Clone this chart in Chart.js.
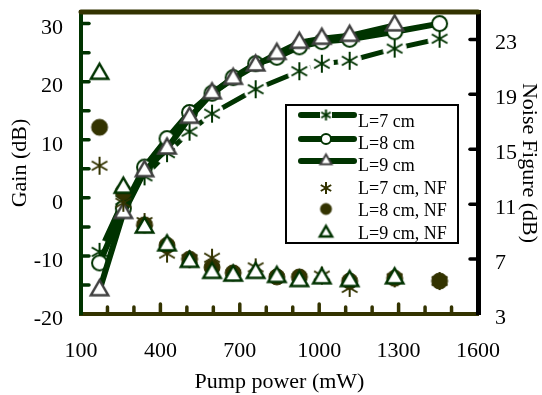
<!DOCTYPE html>
<html>
<head>
<meta charset="utf-8">
<script src="https://cdn.jsdelivr.net/npm/chart.js@4.4.0/dist/chart.umd.min.js"></script>
<style>
  html, body { margin: 0; padding: 0; background: #fff; }
  #wrap { width: 542px; height: 395px; }
</style>
</head>
<body>
<div id="wrap"><canvas id="gainChart" width="542" height="395"></canvas></div>
<script>
// pump power (mW) at which the points were measured
var pump = [170, 260, 340, 425, 510, 595, 675, 760, 840, 925, 1010, 1115, 1285, 1455];

// gain (dB), null = no point at that pump power
var gainL7 = [-9.3, -0.4, 3.7, 7.7, 11.4, 14.5, null, 18.7, null, 21.8, 23.1, 23.6, 25.7, 27.4];
var gainL8 = [-11.2, -1.8, 5.3, 10.2, 14.7, 18.0, 20.7, 23.1, 24.2, 26.0, 26.9, 27.3, 28.6, 30.0];
var gainL9 = [-15.9, -2.6, 4.6, 8.5, 13.8, 18.0, 20.5, 22.8, 24.8, 26.7, 27.4, 27.9, 29.7, null];

// noise figure (dB)
var nfL7 = [13.8, 11.1, 9.7, 7.4, 7.0, 7.1, null, 6.4, null, null, 5.8, 4.9, 5.6, 5.4];
var nfL8 = [16.6, 11.9, 9.5, 8.0, 7.0, 6.4, 6.0, null, 5.7, 5.7, null, 5.4, 5.6, 5.4];
var nfL9 = [20.5, 12.2, 9.3, 8.0, 6.8, 6.0, 5.8, 6.0, 5.7, 5.4, 5.6, 5.4, 5.6, null];

var labels = ['L=7 cm', 'L=8 cm', 'L=9 cm', 'L=7 cm, NF', 'L=8 cm, NF', 'L=9 cm, NF'];
var xTicks = [100, 400, 700, 1000, 1300, 1600];
var gainTicks = [-20, -10, 0, 10, 20, 30];
var nfTicks = [3, 7, 11, 15, 19, 23];

var GREEN = '#003300', OLIVE = '#333300', GREY = '#404040';
var FONT = 'Liberation Serif';

function makeMarker(kind, size, stroke, fill, lw, halo) {
  var dim = Math.ceil(2 * (size + lw + (halo || 0))) + 2;
  var c = document.createElement('canvas');
  c.width = dim; c.height = dim;
  var g = c.getContext('2d');
  var m = dim / 2;
  if (halo) {
    g.fillStyle = '#fff';
    g.beginPath(); g.arc(m, m, size + halo, 0, 2 * Math.PI); g.fill();
  }
  g.lineWidth = lw; g.strokeStyle = stroke; g.fillStyle = fill || '#fff';
  g.beginPath();
  if (kind === 'circle') {
    g.arc(m, m, size, 0, 2 * Math.PI);
  } else if (kind === 'triangle') {
    g.moveTo(m, m - size);
    g.lineTo(m + size * 0.866, m + size / 2);
    g.lineTo(m - size * 0.866, m + size / 2);
    g.closePath();
  } else {
    [90, 30, 150].forEach(function (d) {
      var r = d * Math.PI / 180;
      g.moveTo(m + size * Math.cos(r), m - size * Math.sin(r));
      g.lineTo(m - size * Math.cos(r), m + size * Math.sin(r));
    });
  }
  if (kind !== 'asterisk') g.fill();
  g.stroke();
  return c;
}

var mk = {
  g7: makeMarker('asterisk', 9, GREEN, null, 2, 3),
  g8: makeMarker('circle', 7.5, GREEN, '#fff', 2),
  g9: makeMarker('triangle', 10, GREY, '#fff', 2.5),
  n7: makeMarker('asterisk', 9, OLIVE, null, 2),
  n8: makeMarker('circle', 8, OLIVE, OLIVE, 1),
  n9: makeMarker('triangle', 10, GREEN, '#fff', 2.5)
};
var legendMk = [
  makeMarker('asterisk', 5.5, GREEN, null, 2),
  makeMarker('circle', 5, GREEN, '#fff', 2),
  makeMarker('triangle', 6.5, GREY, '#fff', 2),
  makeMarker('asterisk', 6, OLIVE, null, 2),
  makeMarker('circle', 5.5, OLIVE, OLIVE, 1),
  makeMarker('triangle', 7, GREEN, '#fff', 2.5)
];

function pts(vals) {
  return pump.map(function (p, i) { return { x: p, y: vals[i] }; });
}

function noPad(s) {
  s.paddingTop = 0; s.paddingBottom = 0; s.paddingLeft = 0; s.paddingRight = 0;
}

// inward tick marks and the top frame line
var frame = {
  id: 'frame',
  afterDraw: function (chart) {
    var ctx = chart.ctx, a = chart.chartArea;
    var sx = chart.scales.x, sy = chart.scales.y, s2 = chart.scales.y2;
    ctx.save();
    ctx.lineCap = 'round';
    ctx.lineWidth = 5;
    ctx.strokeStyle = OLIVE;
    ctx.beginPath(); ctx.moveTo(a.left, a.top); ctx.lineTo(a.right, a.top); ctx.stroke();
    ctx.lineWidth = 3.5;
    for (var v = 200; v <= 1500; v += 100) {
      var px = sx.getPixelForValue(v);
      var len = (v - 100) % 300 === 0 ? 10 : 7;
      ctx.beginPath(); ctx.moveTo(px, a.bottom); ctx.lineTo(px, a.bottom - len); ctx.stroke();
    }
    ctx.strokeStyle = GREEN;
    for (var g = -15; g <= 30; g += 5) {
      var py = sy.getPixelForValue(g);
      ctx.beginPath(); ctx.moveTo(a.left, py); ctx.lineTo(a.left + 8, py); ctx.stroke();
    }
    ctx.strokeStyle = '#000';
    for (var n = 7; n <= 23; n += 4) {
      var qy = s2.getPixelForValue(n);
      ctx.beginPath(); ctx.moveTo(a.right, qy); ctx.lineTo(a.right - 8, qy); ctx.stroke();
    }
    ctx.restore();
  }
};

var boxLegend = {
  id: 'boxLegend',
  afterDraw: function (chart) {
    var ctx = chart.ctx;
    var bx = 286, by = 105, bw = 172, bh = 138;
    ctx.save();
    ctx.fillStyle = '#fff';
    ctx.fillRect(bx, by, bw, bh);
    ctx.lineWidth = 2;
    ctx.strokeStyle = '#000';
    ctx.strokeRect(bx, by, bw, bh);
    var lineY = [115, 139, 161];
    var textY = [127, 149, 171, 194, 216, 239];
    var markY = [115, 139, 161, 188, 209, 233];
    ctx.lineCap = 'round';
    for (var i = 0; i < 6; i++) {
      if (i < 3) {
        ctx.strokeStyle = GREEN; ctx.lineWidth = 6;
        ctx.beginPath(); ctx.moveTo(301, lineY[i]); ctx.lineTo(354, lineY[i]); ctx.stroke();
      }
      var im = legendMk[i];
      if (i === 0) {
        ctx.fillStyle = '#fff';
        ctx.fillRect(320, lineY[i] - 3, 12, 6);
      }
      ctx.drawImage(im, 326 - im.width / 2, markY[i] - im.height / 2);
      ctx.fillStyle = '#000';
      ctx.font = '18px "' + FONT + '"';
      ctx.textBaseline = 'alphabetic';
      ctx.fillText(chart.data.datasets[i].label, 358, textY[i]);
    }
    ctx.restore();
  }
};

var tickFont = { family: FONT, size: 22, lineHeight: 1 };
var titleFont = { family: FONT, size: 22 };
function plain(v) { return String(v); }

var ctx = document.getElementById('gainChart').getContext('2d');
var myChart = new Chart(ctx, {
  type: 'line',
  data: {
    datasets: [
      { label: labels[0], data: pts(gainL7), yAxisID: 'y', borderColor: GREEN, borderWidth: 5,
        pointStyle: mk.g7, spanGaps: true, order: 5 },
      { label: labels[1], data: pts(gainL8), yAxisID: 'y', borderColor: GREEN, borderWidth: 6,
        pointStyle: mk.g8, spanGaps: true, order: 4 },
      { label: labels[2], data: pts(gainL9), yAxisID: 'y', borderColor: GREEN, borderWidth: 6,
        pointStyle: mk.g9, spanGaps: true, order: 3 },
      { label: labels[3], data: pts(nfL7), yAxisID: 'y2', showLine: false, pointStyle: mk.n7, order: 2 },
      { label: labels[4], data: pts(nfL8), yAxisID: 'y2', showLine: false, pointStyle: mk.n8, order: 1 },
      { label: labels[5], data: pts(nfL9), yAxisID: 'y2', showLine: false, pointStyle: mk.n9, order: 0 }
    ]
  },
  options: {
    responsive: false,
    animation: false,
    devicePixelRatio: 1,
    layout: { padding: { top: 12, left: 0, right: 0, bottom: 0 } },
    clip: false,
    elements: { line: { tension: 0, borderCapStyle: 'round', borderJoinStyle: 'round' } },
    plugins: {
      legend: { display: false },
      tooltip: { enabled: false }
    },
    scales: {
      x: {
        type: 'linear', position: 'bottom', min: 100, max: 1600,
        afterBuildTicks: function (s) { s.ticks = xTicks.map(function (v) { return { value: v }; }); },
        afterFit: function (s) { s.height = 81; noPad(s); },
        ticks: { font: tickFont, color: '#000', padding: 26, autoSkip: false, maxRotation: 0, callback: plain },
        grid: { display: true, drawOnChartArea: false, drawTicks: false },
        border: { color: OLIVE, width: 4 },
        title: { display: true, text: 'Pump power (mW)', font: titleFont, color: '#000', padding: { top: 0, bottom: 0 } }
      },
      y: {
        type: 'linear', position: 'left', min: -20, max: 32,
        afterBuildTicks: function (s) { s.ticks = gainTicks.map(function (v) { return { value: v }; }); },
        afterFit: function (s) { s.width = 81; noPad(s); },
        ticks: { font: tickFont, color: '#000', padding: 18, labelOffset: 5, callback: plain },
        grid: { display: true, drawOnChartArea: false, drawTicks: false },
        border: { color: GREEN, width: 4 },
        title: { display: true, text: 'Gain (dB)', font: titleFont, color: '#000', padding: { top: 7, bottom: 0 } }
      },
      y2: {
        type: 'linear', position: 'right', min: 3, max: 25,
        afterBuildTicks: function (s) { s.ticks = nfTicks.map(function (v) { return { value: v }; }); },
        afterFit: function (s) { s.width = 64; noPad(s); },
        ticks: { font: tickFont, color: '#000', padding: 17, labelOffset: 4, callback: plain },
        grid: { display: true, drawOnChartArea: false, drawTicks: false },
        border: { color: '#000', width: 5 },
        title: { display: true, text: 'Noise Figure (dB)', font: titleFont, color: '#000', padding: { top: 0, bottom: 0 } }
      }
    }
  },
  plugins: [frame, boxLegend]
});
</script>
</body>
</html>
